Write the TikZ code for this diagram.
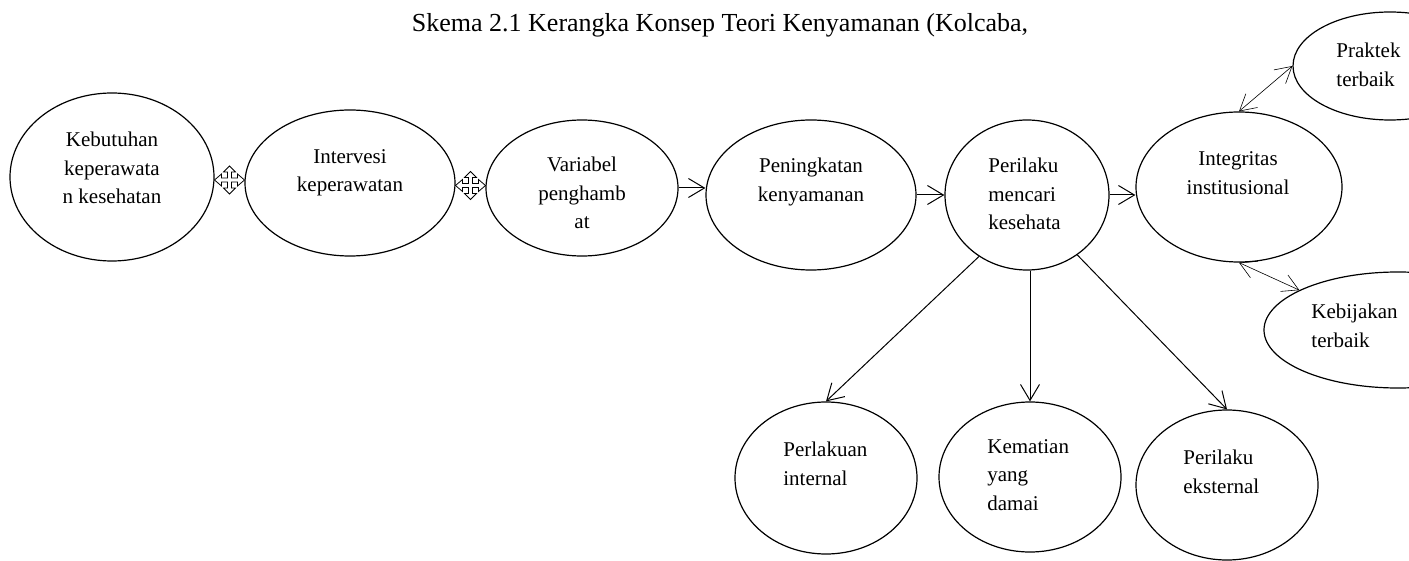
\documentclass[tikz,border=0pt]{standalone}
\usepackage{fontspec}
\setmainfont{Liberation Serif}
\usetikzlibrary{shapes.geometric,arrows.meta,calc}

\tikzset{
  bubble/.style = {draw, ellipse, line width = 0.6pt, inner sep = 0pt},
  txt/.style = {font = \fontsize{10.5}{14.2}\selectfont, inner sep = 0pt},
  flow/.style = {line width = 0.5pt, -{Straight Barb[length = 8pt, width = 9.5pt]}},
  link/.style = {line width = 0.3pt, {Straight Barb[length = 8pt, width = 9pt]}-{Straight Barb[length = 8pt, width = 9pt]}},
  movesign/.pic = {
    \draw[line width = 0.4pt, fill = white]
      (0, 14) -- (6, 8) -- (2, 8) -- (2, 2) -- (8, 2) -- (8, 6) -- (15, 0)
      -- (8, -6) -- (8, -2) -- (2, -2) -- (2, -8) -- (6, -8) -- (0, -14)
      -- (-6, -8) -- (-2, -8) -- (-2, -2) -- (-8, -2) -- (-8, -6) -- (-15, 0)
      -- (-8, 6) -- (-8, 2) -- (-2, 2) -- (-2, 8) -- (-6, 8) -- cycle;
  }
}

\begin{document}
\begin{tikzpicture}[x = 0.5pt, y = -0.5pt]
	 \useasboundingbox (0, 0) rectangle (1409, 561);
	 \clip (0, 0) rectangle (1409, 561);

	 \node[font = \fontsize{13}{15}\selectfont] (title) at (720, 25) {Skema 2.1 Kerangka Konsep Teori Kenyamanan (Kolcaba,};

	 % ellipses
	 \node[bubble, minimum width = 102pt, minimum height = 84pt] (kebutuhan) at (112, 177) {};
	 \node[bubble, minimum width = 105pt, minimum height = 73pt] (intervensi) at (350, 183) {};
	 \node[bubble, minimum width = 96pt, minimum height = 68pt] (variabel) at (582, 188) {};
	 \node[bubble, minimum width = 105pt, minimum height = 75pt] (peningkatan) at (811, 195) {};
	 \node[bubble, minimum width = 82pt, minimum height = 75pt] (perilaku) at (1027, 195) {};
	 \node[bubble, minimum width = 103pt, minimum height = 75pt] (integritas) at (1239, 187) {};
	 \node[bubble, minimum width = 97pt, minimum height = 54pt] (praktek) at (1390, 66) {};
	 \node[bubble, minimum width = 134pt, minimum height = 58pt] (kebijakan) at (1398, 330) {};
	 \node[bubble, minimum width = 91pt, minimum height = 76pt] (internal) at (826, 478) {};
	 \node[bubble, minimum width = 91pt, minimum height = 75pt] (kematian) at (1030, 477) {};
	 \node[bubble, minimum width = 91pt, minimum height = 75pt] (eksternal) at (1227, 485) {};

	 % texts
	 \node[txt, align = center] (kebutuhan text) at (112, 168) {Kebutuhan\\keperawata\\n kesehatan};
	 \node[txt, align = center] (intervensi text) at (350, 173) {Intervesi\\keperawatan};
	 \node[txt, align = center] (variabel text) at (582, 193) {Variabel\\penghamb\\at};
	 \node[txt, align = center] (peningkatan text) at (811, 182) {Peningkatan\\kenyamanan};
	 \node[txt, align = left, anchor = west] (perilaku text) at (988, 194) {Perilaku\\mencari\\kesehata};
	 \node[txt, align = center] (integritas text) at (1238, 173) {Integritas\\institusional};
	 \node[txt, align = left, anchor = west] (praktek text) at (1336, 65) {Praktek\\terbaik};
	 \node[txt, align = left, anchor = west] (kebijakan text) at (1311, 326) {Kebijakan\\terbaik};
	 \node[txt, align = left, anchor = west] (internal text) at (783, 464) {Perlakuan\\internal};
	 \node[txt, align = left, anchor = west] (kematian text) at (987, 475) {Kematian\\yang\\damai};
	 \node[txt, align = left, anchor = west] (eksternal text) at (1183, 472) {Perilaku\\eksternal};

	 % four way signs
	 \pic at ($(kebutuhan.east)!0.5!(intervensi.west)$) {movesign};
	 \pic at ($(intervensi.east)!0.5!(variabel.west)$) {movesign};

	 % arrows
	 \draw[flow] (variabel.east) -- (variabel.east -| peningkatan.west);
	 \draw[flow] (peningkatan.east) -- (peningkatan.east -| perilaku.west);
	 \draw[flow] (perilaku.east) -- (perilaku.east -| integritas.west);
	 \draw[flow] (perilaku.-128) -- (internal.north);
	 \draw[flow] (kematian.north |- perilaku.south) -- (kematian.north);
	 \draw[flow] (perilaku.-50) -- (eksternal.north);

	 \draw[link] (integritas.north) -- (praktek.west);
	 \draw[link] (integritas.south) -- (kebijakan.158);
\end{tikzpicture}
\end{document}
